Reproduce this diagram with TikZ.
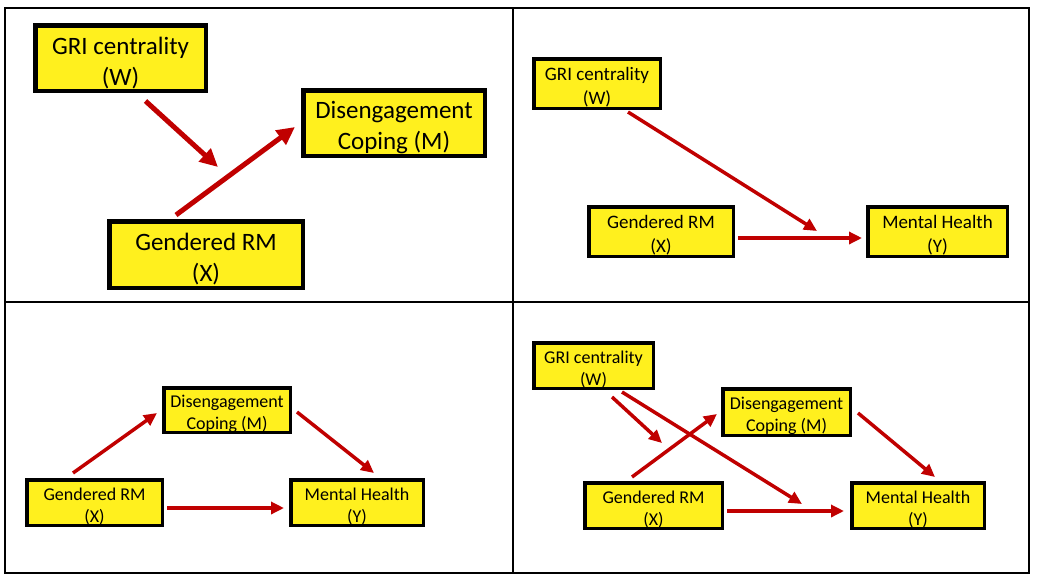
\documentclass[tikz,border=0pt]{standalone}
\usepackage{fontspec}
\setmainfont{Carlito}
\usepackage{tikz}
\usetikzlibrary{arrows.meta}
\definecolor{boxyellow}{RGB}{255,240,30}
\definecolor{arrred}{RGB}{192,0,0}
% two centred lines, set a little low in the box
\newcommand{\twolines}[3][3.5pt]{\raisebox{-#1}[\height][\depth]{#2}\\\raisebox{-#1}[\height][\depth]{#3}}
\tikzset{
  boxL/.style={ draw, line width=4.5pt, fill=boxyellow, align=center, inner sep=0pt, font=\fontsize{25}{31}\selectfont }
}
\tikzset{
  boxS/.style={ draw, line width=3.5pt, fill=boxyellow, align=center, inner sep=0pt, font=\fontsize{18}{22}\selectfont }
}
\tikzset{
  arrL/.style={ arrred, line width=5pt, -{Triangle[length=18pt, width=17pt]} }
}
\tikzset{
  arrS/.style={ arrred, line width=3.5pt, -{Triangle[length=13pt, width=12pt]} }
}
\begin{document}
\begin{tikzpicture}[x=1pt, y=-1pt]
      \useasboundingbox (0, 0) rectangle (1039, 582);
      % table
      \draw[line width=1.2pt] (5, 8) rectangle (1029, 573);
      \draw[line width=1.2pt] (513, 8) -- (513, 573);
      \draw[line width=1.2pt] (5, 302) -- (1029, 302);
      % top left
      \node[boxL, minimum width=170.5pt, minimum height=65.5pt] (W1) at (120.5, 58) {\twolines[5pt]{GRI centrality}{(W)}};
      \node[boxL, minimum width=181.5pt, minimum height=65.5pt] (M1) at (394, 123) {\twolines[5pt]{Disengagement}{Coping (M)}};
      \node[boxL, minimum width=193.5pt, minimum height=66.5pt] (X1) at (206, 254.5) {\twolines[5pt]{Gendered RM}{(X)}};
      \coordinate (t1) at (218, 167);
      \draw[arrL] ([xshift=25pt, yshift=-8pt]W1.south) -- (t1);
      \draw[arrL] ([xshift=-30pt, yshift=4pt]X1.north) -- ([xshift=-6pt, yshift=-4pt]M1.west);
      % top right
      \node[boxS, font=\fontsize{19}{24}\selectfont, minimum width=126.5pt, minimum height=49.5pt] (W2) at (597, 83.5) {\twolines{GRI centrality}{(W)}};
      \node[boxS, font=\fontsize{19}{24}\selectfont, minimum width=144.5pt, minimum height=49.5pt] (X2) at (661, 231.5) {\twolines[4pt]{Gendered RM}{(X)}};
      \node[boxS, font=\fontsize{19}{24}\selectfont, minimum width=139.5pt, minimum height=49.5pt] (Y2) at (937.5, 231.5) {\twolines[4pt]{Mental Health}{(Y)}};
      \coordinate (t2) at (817, 231);
      \draw[arrS] ([xshift=31pt, yshift=-2pt]W2.south) -- (t2);
      \draw[arrS] ([xshift=3pt, yshift=-6.5pt]X2.east) -- ([xshift=-4pt, yshift=-6.5pt]Y2.west);
      % bottom left
      \node[boxS, minimum width=126.5pt, minimum height=44.5pt] (M3) at (227, 410) {\twolines{Disengagement}{Coping (M)}};
      \node[boxS, minimum width=135.5pt, minimum height=45.5pt] (X3) at (94.5, 502.5) {\twolines{Gendered RM}{(X)}};
      \node[boxS, minimum width=132.5pt, minimum height=45.5pt] (Y3) at (357, 502.5) {\twolines{Mental Health}{(Y)}};
      \draw[arrS] ([xshift=-21.5pt, yshift=5pt]X3.north) -- ([xshift=-5pt, yshift=-3pt]M3.west);
      \draw[arrS] ([xshift=5pt, yshift=-2pt]M3.east) -- ([xshift=17pt, yshift=5pt]Y3.north);
      \draw[arrS] ([xshift=3pt, yshift=-5.5pt]X3.east) -- ([xshift=-5pt, yshift=-5.5pt]Y3.west);
      % bottom right
      \node[boxS, minimum width=119.5pt, minimum height=45.5pt] (W4) at (593.5, 365.5) {\twolines{GRI centrality}{(W)}};
      \node[boxS, minimum width=127.5pt, minimum height=46.5pt] (M4) at (786.5, 412) {\twolines{Disengagement}{Coping (M)}};
      \node[boxS, minimum width=137.5pt, minimum height=45.5pt] (X4) at (653.5, 505.5) {\twolines{Gendered RM}{(X)}};
      \node[boxS, minimum width=132.5pt, minimum height=45.5pt] (Y4) at (918, 505.5) {\twolines{Mental Health}{(Y)}};
      \coordinate (t4a) at (662, 443);
      \coordinate (t4b) at (802, 504);
      \draw[arrS] ([xshift=18.5pt, yshift=-7pt]W4.south) -- (t4a);
      \draw[arrS] ([xshift=28.5pt, yshift=-2pt]W4.south) -- (t4b);
      \draw[arrS] ([xshift=-21.5pt, yshift=4pt]X4.north) -- ([xshift=-4pt, yshift=-2pt]M4.west);
      \draw[arrS] ([xshift=6pt, yshift=-1pt]M4.east) -- ([xshift=17pt, yshift=4pt]Y4.north);
      \draw[arrS] ([xshift=3pt, yshift=-5.5pt]X4.east) -- ([xshift=-6pt, yshift=-5.5pt]Y4.west);
    \end{tikzpicture}
\end{document}
